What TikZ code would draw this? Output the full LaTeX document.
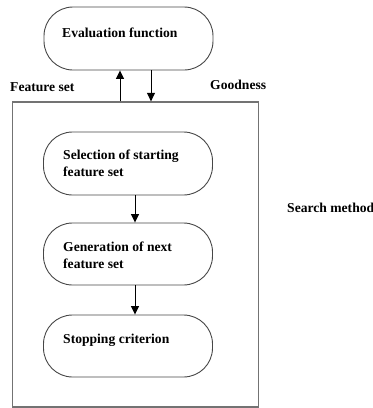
\documentclass[tikz,border=0pt]{standalone}
\usepackage{fontspec}
\setmainfont{Liberation Serif}
\usetikzlibrary{arrows.meta}
\begin{document}
\begin{tikzpicture}[x=1pt,y=-1pt,
  procbox/.style={draw=black!72,line width=0.9pt,rounded corners=29pt,minimum width=169pt,minimum height=63pt,inner sep=0pt},
  frame/.style={draw=black!55,line width=1.3pt,minimum width=246pt,minimum height=305pt,inner sep=0pt},
  txt/.style={font=\bfseries\fontsize{13.6}{17}\selectfont,inner sep=0pt,anchor=west,align=left,text=black},
  arr/.style={-{Triangle[length=8.5pt,width=8pt]},line width=0.9pt,black}]
\useasboundingbox (0,0) rectangle (373,408);
\node[frame] (search) at (135.5,254.5) {};
\node[procbox] (eval) at (128.5,38.5) {};
\node[procbox] (sel) at (128,163.5) {};
\node[procbox, minimum height=62pt] (gen) at (128,254) {};
\node[procbox, minimum height=62pt] (stop) at (128,346) {};
\node[txt] (tEval) at (62,33) {Evaluation function};
\node[txt] (tSel) at (63,163.5) {Selection of starting\\feature set};
\node[txt] (tGen) at (63,255) {Generation of next\\feature set};
\node[txt] (tStop) at (63,340) {Stopping criterion};
\node[txt] (lFeat) at (10,87) {Feature set};
\node[txt] (lGood) at (210,85) {Goodness};
\node[txt] (lSearch) at (287,208) {Search method};
\coordinate (xu) at (120,0);
\coordinate (xd) at (151,0);
\coordinate (xm) at (135,0);
\draw[arr] (search.north -| xu) -- (eval.south -| xu);
\draw[arr] (eval.south -| xd) -- (search.north -| xd);
\draw[arr] (sel.south -| xm) -- (gen.north -| xm);
\draw[arr] (gen.south -| xm) -- (stop.north -| xm);
\end{tikzpicture}
\end{document}
